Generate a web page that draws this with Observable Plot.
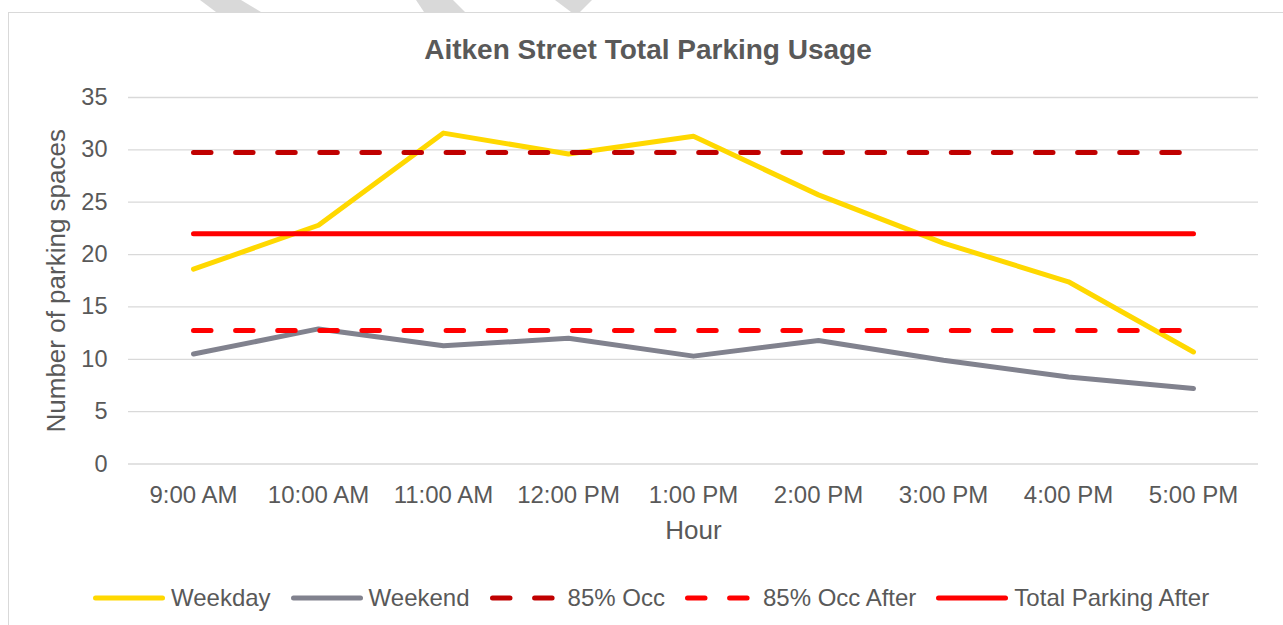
<!DOCTYPE html>
<html>
<head>
<meta charset="utf-8">
<script src="https://cdn.jsdelivr.net/npm/d3@7"></script>
<script src="https://cdn.jsdelivr.net/npm/@observablehq/plot@0.6"></script>
<style>
  html, body { margin: 0; padding: 0; background: #fff; }
  #wrap { position: relative; width: 1283px; height: 625px; overflow: hidden; font-family: "Liberation Sans", Arial, sans-serif; color: #595959; }
  .wm { position: absolute; top: 0; height: 12px; background: #d9d9d9; }
  #frame { position: absolute; left: 8px; top: 12px; width: 1400px; height: 700px; border: 1.5px solid #d9d9d9; box-sizing: border-box; background: #fff; }
  #chart { position: absolute; left: 0; top: 0; }
  #title { position: absolute; left: 8px; width: 1280px; top: 36px; line-height: 28px; text-align: center; font-weight: bold; font-size: 28px; color: #595959; white-space: nowrap; }
  #legend { position: absolute; left: 93px; top: 585px; height: 26px; display: flex; align-items: center; gap: 20px; font-size: 24px; line-height: 26px; color: #595959; white-space: nowrap; }
  .item { display: flex; align-items: center; }
  .item svg { display: block; margin-right: 6px; }
</style>
</head>
<body>
<div id="wrap">
  <div class="wm" style="left:200px;width:61px;clip-path:polygon(0 0,41px 0,61px 12px,16px 12px);"></div>
  <div class="wm" style="left:416px;width:49px;clip-path:polygon(0 0,37px 0,49px 12px,8px 12px);"></div>
  <div class="wm" style="left:555px;width:37px;clip-path:polygon(0 0,37px 0,25px 12px,16px 12px);"></div>
  <div id="frame"></div>
  <div id="chart"></div>
  <div id="title">Aitken Street Total Parking Usage</div>
  <div id="legend"></div>
</div>
<script>
// ---- data ----
const hours = ["9:00 AM", "10:00 AM", "11:00 AM", "12:00 PM", "1:00 PM", "2:00 PM", "3:00 PM", "4:00 PM", "5:00 PM"];
const weekday = [18.6, 22.8, 31.6, 29.6, 31.3, 25.7, 21.1, 17.4, 10.7];
const weekend = [10.5, 12.9, 11.3, 12.0, 10.3, 11.8, 9.9, 8.3, 7.2];
const occ85 = [29.75, 29.75, 29.75, 29.75, 29.75, 29.75, 29.75, 29.75, 29.75];
const occ85After = [12.75, 12.75, 12.75, 12.75, 12.75, 12.75, 12.75, 12.75, 12.75];
const totalParkingAfter = [22, 22, 22, 22, 22, 22, 22, 22, 22];
const yTicks = [0, 5, 10, 15, 20, 25, 30, 35];
const seriesNames = ["Weekday", "Weekend", "85% Occ", "85% Occ After", "Total Parking After"];
const seriesColors = ["#FFD800", "#81828E", "#C00000", "#FF0000", "#FF0000"];
const seriesDash = [null, null, "17.5,24.6", "17.5,24.6", null];

const rows = hours.map((h, i) => ({
  hour: h,
  weekday: weekday[i],
  weekend: weekend[i],
  occ85: occ85[i],
  occ85After: occ85After[i],
  totalParkingAfter: totalParkingAfter[i]
}));
const keys = ["weekday", "weekend", "occ85", "occ85After", "totalParkingAfter"];

const lineMarks = keys.map((k, i) => Plot.line(rows, {
  x: "hour",
  y: k,
  stroke: seriesColors[i],
  strokeWidth: 5,
  strokeLinecap: "round",
  strokeLinejoin: "round",
  strokeDasharray: seriesDash[i] || undefined
}));

const chart = Plot.plot({
  width: 1283,
  height: 625,
  marginLeft: 128,
  marginRight: 25,
  marginTop: 97,
  marginBottom: 161.5,
  style: { fontFamily: "'Liberation Sans', Arial, sans-serif", fontSize: "24px", color: "#595959", background: "transparent" },
  x: { type: "point", domain: hours, padding: 0.5 },
  y: { domain: [0, 35] },
  marks: [
    Plot.gridY({ ticks: yTicks, stroke: "#d9d9d9", strokeOpacity: 1, strokeWidth: 1.3 }),
    Plot.axisY({ ticks: yTicks, tickSize: 0, tickPadding: 21, fontSize: 23.5, fill: "#595959", label: null }),
    Plot.axisX({ tickSize: 0, tickPadding: 21.5, fontSize: 24, fill: "#595959", label: null }),
    Plot.text(["Hour"], { text: d => d, frameAnchor: "bottom", lineAnchor: "bottom", dy: 74.5, fontSize: 26, fill: "#595959" }),
    Plot.text(["Number of parking spaces"], { text: d => d, frameAnchor: "left", textAnchor: "middle", lineAnchor: "bottom", rotate: -90, dx: -63.5, fontSize: 26, fill: "#595959" }),
    ...lineMarks
  ]
});
document.getElementById("chart").appendChild(chart);

// ---- legend ----
const legend = document.getElementById("legend");
seriesNames.forEach((name, i) => {
  const item = document.createElement("div");
  item.className = "item";
  const dash = seriesDash[i] ? ` stroke-dasharray="${seriesDash[i]}"` : "";
  item.innerHTML = `<svg width="72" height="26"><line x1="2.5" x2="69.5" y1="13" y2="13" stroke="${seriesColors[i]}" stroke-width="5" stroke-linecap="round"${dash}/></svg><span>${name}</span>`;
  legend.appendChild(item);
});
</script>
</body>
</html>
